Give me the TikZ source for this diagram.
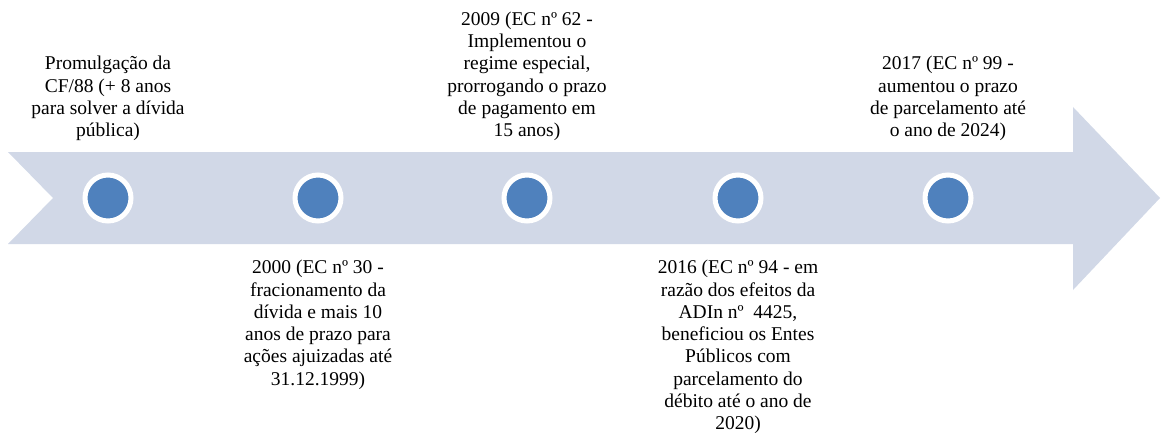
\documentclass[tikz,border=0pt]{standalone}
\usepackage{fontspec}
\setmainfont{Liberation Serif}
\definecolor{bandblue}{HTML}{D1D8E7}
\definecolor{dotblue}{HTML}{4F81BD}
\tikzset{
  dot/.style={circle,fill=dotblue,draw=white,line width=5pt,minimum size=46pt,inner sep=0pt},
  event/.style={align=center,inner sep=0pt,font=\fontsize{19.5}{22.3}\selectfont}
}

\begin{document}
\begin{tikzpicture}[x=1pt,y=-1pt]
\useasboundingbox (0,0) rectangle (1161,433);
%\draw[help lines,step=50] (0,0) grid (1161,433);
\fill[bandblue] (8,152) -- (1073,152) -- (1073,107) -- (1160,198) -- (1073,290) -- (1073,244) -- (8,244) -- (53,198) -- cycle;

\foreach \n/\x in {1/108, 2/318, 3/527, 4/738, 5/948}
  \node[dot] (d\n) at (\x,198) {};

\node[event,anchor=south] (t1) at (108,141) {Promulgação da\\CF/88 (+ 8 anos\\para solver a dívida\\pública)};
\node[event,anchor=south] (t3) at (527,141) {2009 (EC nº 62 -\\Implementou o\\regime especial,\\prorrogando o prazo\\de pagamento em\\15 anos)};
\node[event,anchor=south] (t5) at (948,141) {2017 (EC nº 99 -\\aumentou o prazo\\de parcelamento até\\o ano de 2024)};
\node[event,anchor=north] (t2) at (318,260) {2000 (EC nº 30 -\\fracionamento da\\dívida e mais 10\\anos de prazo para\\ações ajuizadas até\\31.12.1999)};
\node[event,anchor=north] (t4) at (738,260) {2016 (EC nº 94 - em\\razão dos efeitos da\\ADIn nº~ 4425,\\beneficiou os Entes\\Públicos com\\parcelamento do\\débito até o ano de\\2020)};
\end{tikzpicture}
\end{document}
